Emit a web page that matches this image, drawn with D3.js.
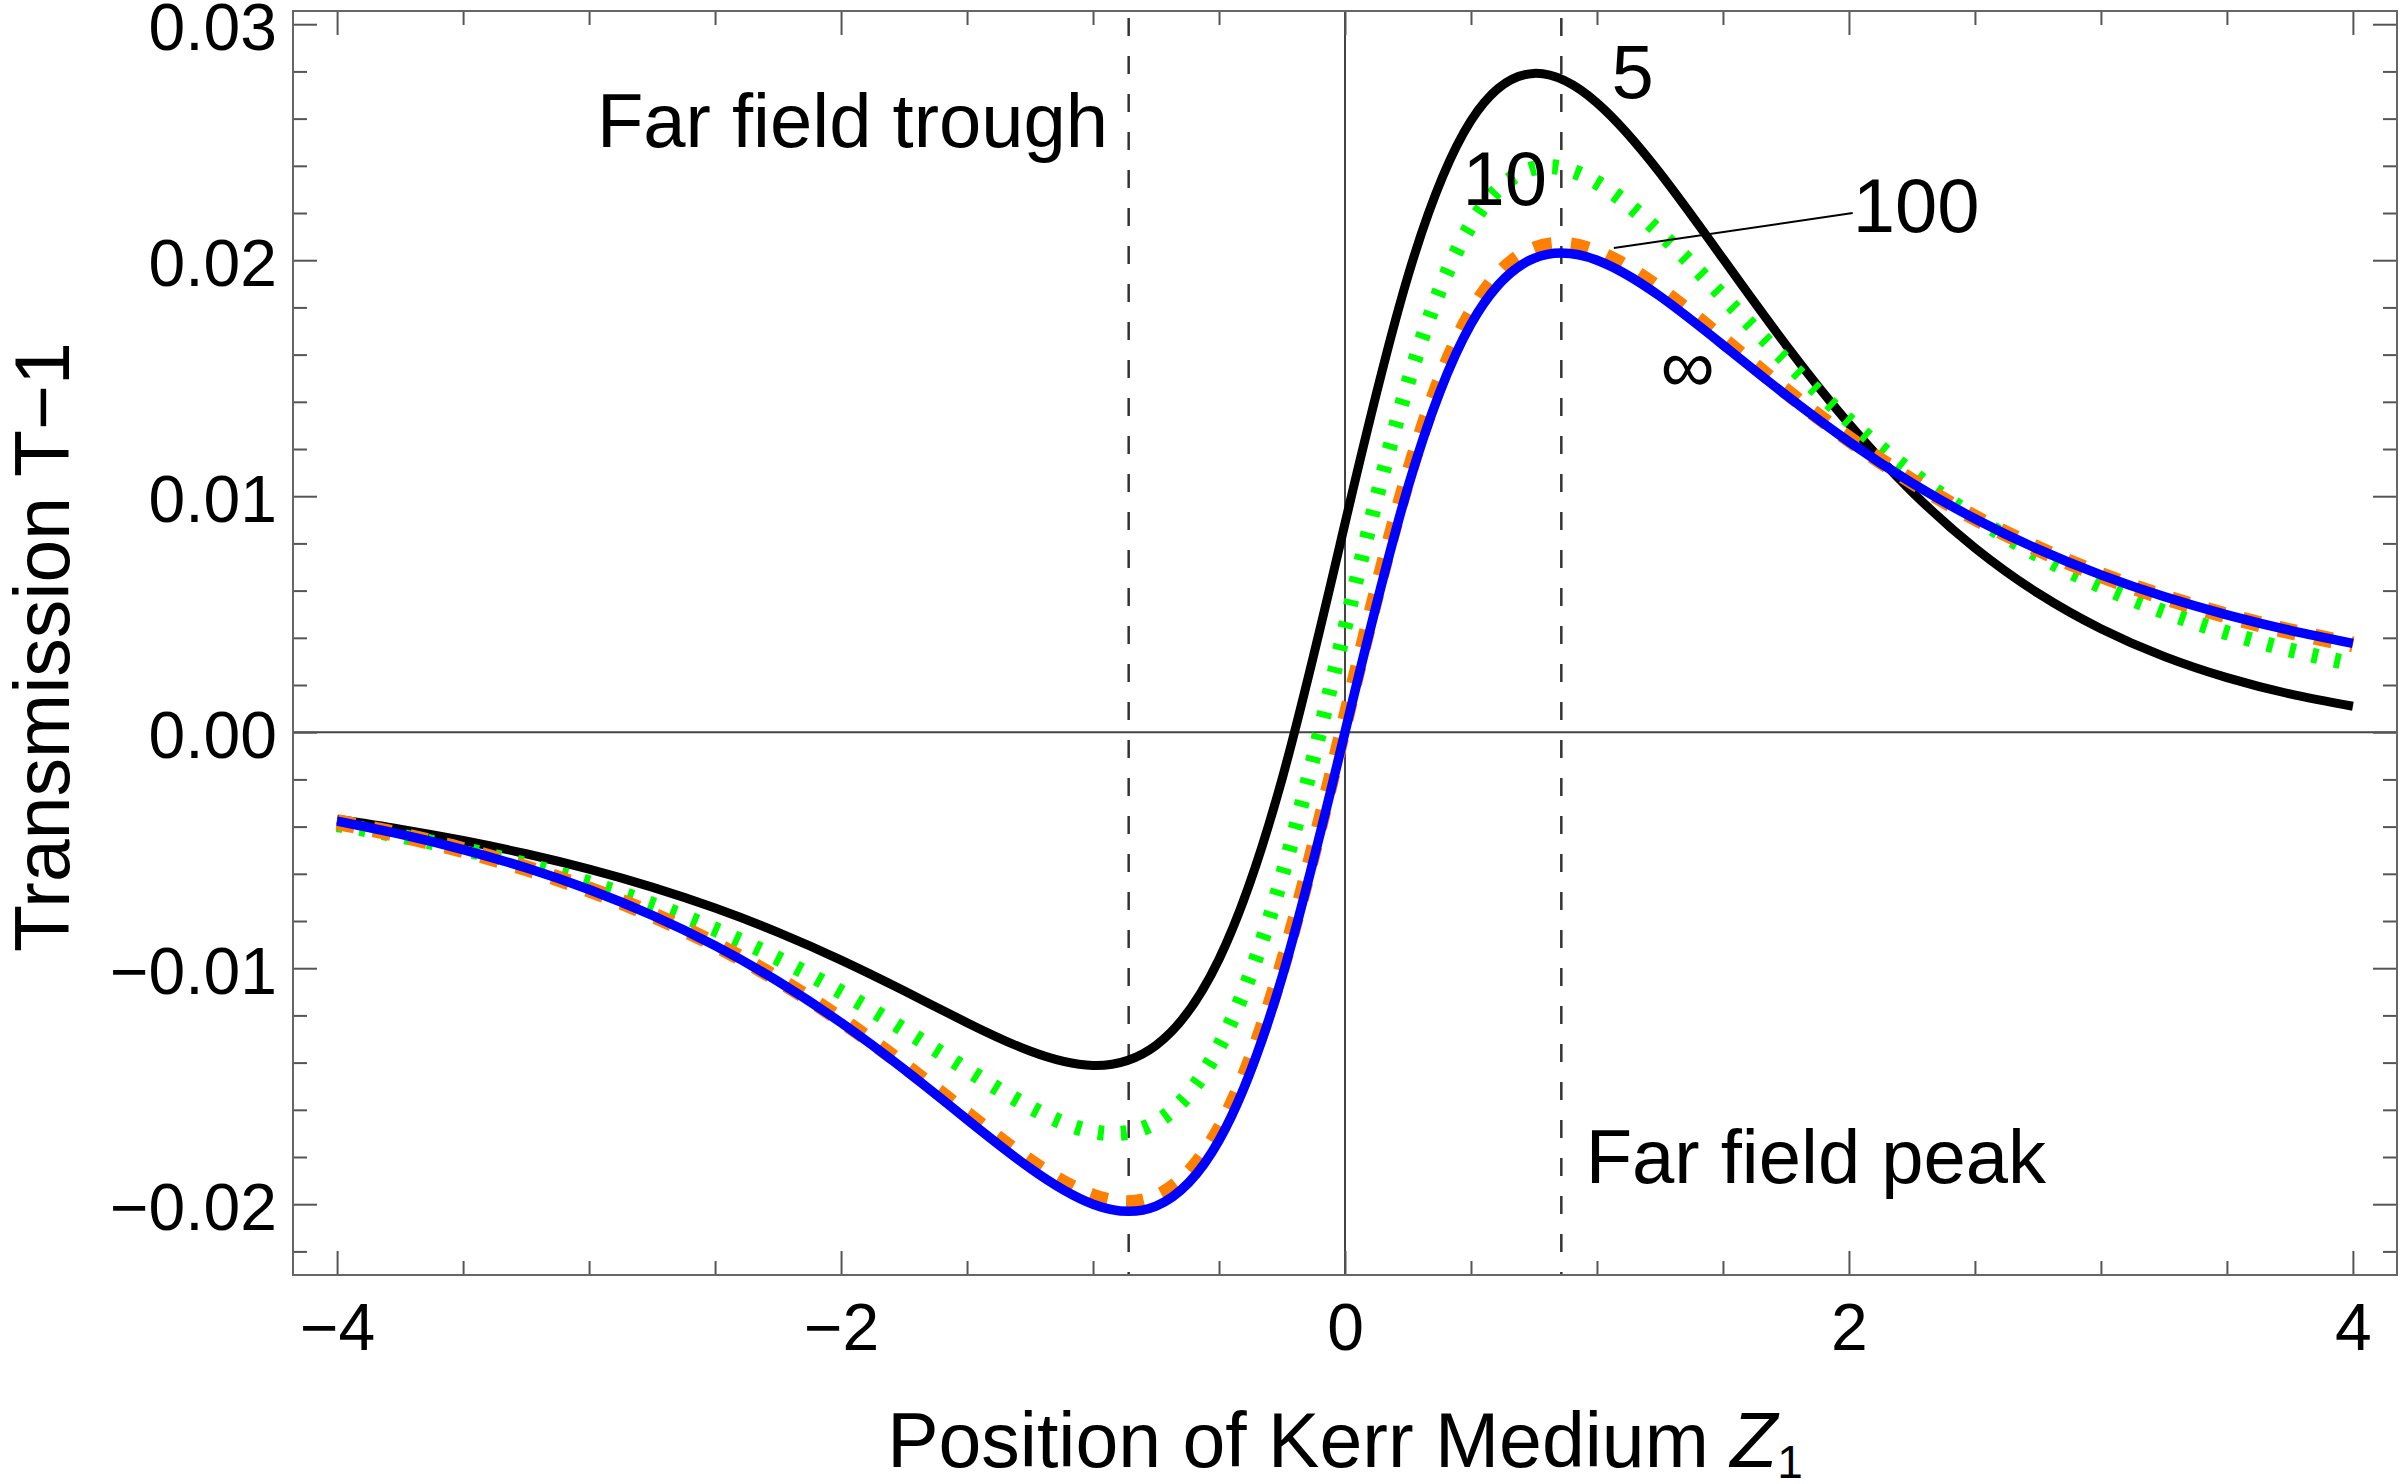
<!DOCTYPE html>
<html><head><meta charset="utf-8">
<script src="https://cdn.jsdelivr.net/npm/d3@7"></script>
<style>
html,body{margin:0;padding:0;background:#fff;}
svg{display:block;}
text{font-family:"Liberation Sans",Arial,Helvetica,sans-serif;fill:#000;}
</style></head><body>
<svg id="chart" width="2400" height="1484"></svg>
<script>
// ---- data ----
const zPositions = [-4,-3.75,-3.5,-3.25,-3,-2.75,-2.5,-2.25,-2,-1.75,-1.5,-1.25,-1,-0.75,-0.5,-0.25,0,
  0.25,0.5,0.75,1,1.25,1.5,1.75,2,2.25,2.5,2.75,3,3.25,3.5,3.75,4];
const seriesLabels = ["5","10","100","\u221E"];
const dist5 = [-0.003691,-0.004108,-0.004590,-0.005150,-0.005803,-0.006565,-0.007453,-0.008481,-0.009655,-0.010956,-0.012308,-0.013510,-0.014118,-0.013267,-0.009618,-0.001991,0.008850,
  0.019332,0.025913,0.027916,0.026667,0.023693,0.020064,0.016410,0.013069,0.010190,0.007807,0.005892,0.004384,0.003212,0.002311,0.001622,0.001098];
const dist10 = [-0.003911,-0.004393,-0.004955,-0.005613,-0.006384,-0.007289,-0.008350,-0.009586,-0.011008,-0.012602,-0.014294,-0.015886,-0.016923,-0.016528,-0.013330,-0.006107,0.004440,
  0.014804,0.021503,0.023896,0.023294,0.021163,0.018470,0.015739,0.013215,0.010996,0.009100,0.007510,0.006191,0.005105,0.004214,0.003485,0.002887];
const dist100 = [-0.003806,-0.004352,-0.004997,-0.005760,-0.006663,-0.007732,-0.008994,-0.010475,-0.012188,-0.014120,-0.016197,-0.018207,-0.019681,-0.019711,-0.016890,-0.009951,0.000444,
  0.010821,0.017708,0.020449,0.020321,0.018740,0.016623,0.014447,0.012424,0.010634,0.009089,0.007774,0.006663,0.005727,0.004940,0.004276,0.003716];
const distInf = [-0.003765,-0.004318,-0.004972,-0.005747,-0.006667,-0.007757,-0.009045,-0.010557,-0.012308,-0.014285,-0.016410,-0.018473,-0.020000,-0.020079,-0.017297,-0.010385,0,
  0.010385,0.017297,0.020079,0.020000,0.018473,0.016410,0.014285,0.012308,0.010557,0.009045,0.007757,0.006667,0.005747,0.004972,0.004318,0.003765];
const farFieldMarks = [-0.8585, 0.8585];
const xTickValues = [-4,-2,0,2,4];
const xTickLabels = ["\u22124","\u22122","0","2","4"];
const yTickValues = [-0.02,-0.01,0,0.01,0.02,0.03];
const yTickLabels = ["\u22120.02","\u22120.01","0.00","0.01","0.02","0.03"];

// ---- layout ----
const L = 293, R = 2397, T = 11, B = 1275;
const svg = d3.select("#chart");
svg.append("rect").attr("width",2400).attr("height",1484).attr("fill","#fff");
const x = d3.scaleLinear().domain([-4.175, 4.175]).range([L, R]);
const y = d3.scaleLinear().domain([-0.023, 0.03056]).range([B, T]);

// minor ticks
const xMinor = d3.range(-4, 4.001, 0.5).filter(v => Math.abs(v/2 - Math.round(v/2)) > 1e-6);
const yMinor = d3.range(-22, 31, 2).map(v => v/1000).filter(v => Math.abs(v*100 - Math.round(v*100)) > 1e-6);

// axes lines (x=0, y=0)
svg.append("line").attr("x1",L).attr("x2",R).attr("y1",y(0)).attr("y2",y(0))
  .attr("stroke","#444").attr("stroke-width",2);
svg.append("line").attr("x1",x(0)).attr("x2",x(0)).attr("y1",T).attr("y2",B)
  .attr("stroke","#444").attr("stroke-width",2);

// far-field dashed lines
svg.selectAll("line.ff").data(farFieldMarks).enter().append("line").attr("class","ff")
  .attr("x1",d=>x(d)).attr("x2",d=>x(d)).attr("y1",T).attr("y2",B)
  .attr("stroke","#333").attr("stroke-width",2.5).attr("stroke-dasharray","18,20").attr("stroke-dashoffset",31);

// curves
const series = [
  {vals: dist5, color:"#000000", width:9, dash:null},
  {vals: dist10, color:"#00ff00", width:15, dash:"6,17"},
  {vals: dist100, color:"#ff7f00", width:16, dash:"18,19"},
  {vals: distInf, color:"#0000ff", width:9.5, dash:null}
];
const line = d3.line().x(d=>x(d[0])).y(d=>y(d[1])).curve(d3.curveNatural);
series.forEach(s => {
  svg.append("path").datum(zPositions.map((z,i)=>[z, s.vals[i]]))
    .attr("d", line).attr("fill","none").attr("stroke", s.color)
    .attr("stroke-width", s.width).attr("stroke-linecap","butt").attr("stroke-linejoin","round")
    .attr("stroke-dasharray", s.dash);
});

// frame axes
function styleAxis(g){
  g.select(".domain").remove();
  g.selectAll(".tick line").attr("stroke","#555").attr("stroke-width",2);
  g.selectAll("text").style("font-family",'"Liberation Sans",Arial,sans-serif').style("font-size","66px").attr("fill","#000");
}
const fmtX = v => xTickLabels[xTickValues.indexOf(v)];
const fmtY = v => { const i = yTickValues.findIndex(t => Math.abs(t - v) < 1e-9); return yTickLabels[i]; };

svg.append("g").attr("transform",`translate(0,${B})`)
  .call(d3.axisBottom(x).tickValues(xTickValues).tickSize(-24).tickPadding(28).tickFormat(fmtX)).call(styleAxis);
svg.append("g").attr("transform",`translate(0,${B})`)
  .call(d3.axisBottom(x).tickValues(xMinor).tickSize(-14).tickFormat("")).call(styleAxis);
svg.append("g").attr("transform",`translate(0,${T})`)
  .call(d3.axisTop(x).tickValues(xTickValues).tickSize(-24).tickFormat("")).call(styleAxis);
svg.append("g").attr("transform",`translate(0,${T})`)
  .call(d3.axisTop(x).tickValues(xMinor).tickSize(-14).tickFormat("")).call(styleAxis);
const gl = svg.append("g").attr("transform",`translate(${L},0)`)
  .call(d3.axisLeft(y).tickValues(yTickValues).tickSize(-24).tickPadding(16).tickFormat(fmtY)).call(styleAxis);
gl.selectAll("text").attr("dy","0.38em");
svg.append("g").attr("transform",`translate(${L},0)`)
  .call(d3.axisLeft(y).tickValues(yMinor).tickSize(-14).tickFormat("")).call(styleAxis);
svg.append("g").attr("transform",`translate(${R},0)`)
  .call(d3.axisRight(y).tickValues(yTickValues).tickSize(-24).tickFormat("")).call(styleAxis);
svg.append("g").attr("transform",`translate(${R},0)`)
  .call(d3.axisRight(y).tickValues(yMinor).tickSize(-14).tickFormat("")).call(styleAxis);

svg.append("rect").attr("x",L).attr("y",T).attr("width",R-L).attr("height",B-T)
  .attr("fill","none").attr("stroke","#666").attr("stroke-width",2);

// annotations
const lab = (t, xv, yv, anchor) => svg.append("text").attr("x",x(xv)).attr("y",y(yv))
  .attr("text-anchor",anchor||"middle").style("font-size","76px").text(t);
lab(seriesLabels[0], 1.142, 0.02687);
lab(seriesLabels[1], 0.634, 0.02233);
lab(seriesLabels[2], 2.267, 0.02120);
lab(seriesLabels[3], 1.360, 0.01440);
svg.append("line").attr("x1",x(1.067)).attr("y1",y(0.02052)).attr("x2",x(2.015)).attr("y2",y(0.02200))
  .attr("stroke","#000").attr("stroke-width",2);
lab("Far field trough", -2.969, 0.02480, "start");
lab("Far field peak", 0.955, -0.01910, "start");

// axis titles
const xt = svg.append("text").attr("x",(L+R)/2).attr("y",1467).attr("text-anchor","middle").style("font-size","77px");
xt.append("tspan").text("Position of Kerr Medium ");
xt.append("tspan").style("font-style","italic").text("Z");
xt.append("tspan").attr("dy",11).style("font-size","46px").text("1");
svg.append("text").attr("transform",`translate(69,${(T+B)/2+4}) rotate(-90)`).attr("text-anchor","middle")
  .style("font-size","77px").text("Transmission T\u22121");
</script>
</body></html>
